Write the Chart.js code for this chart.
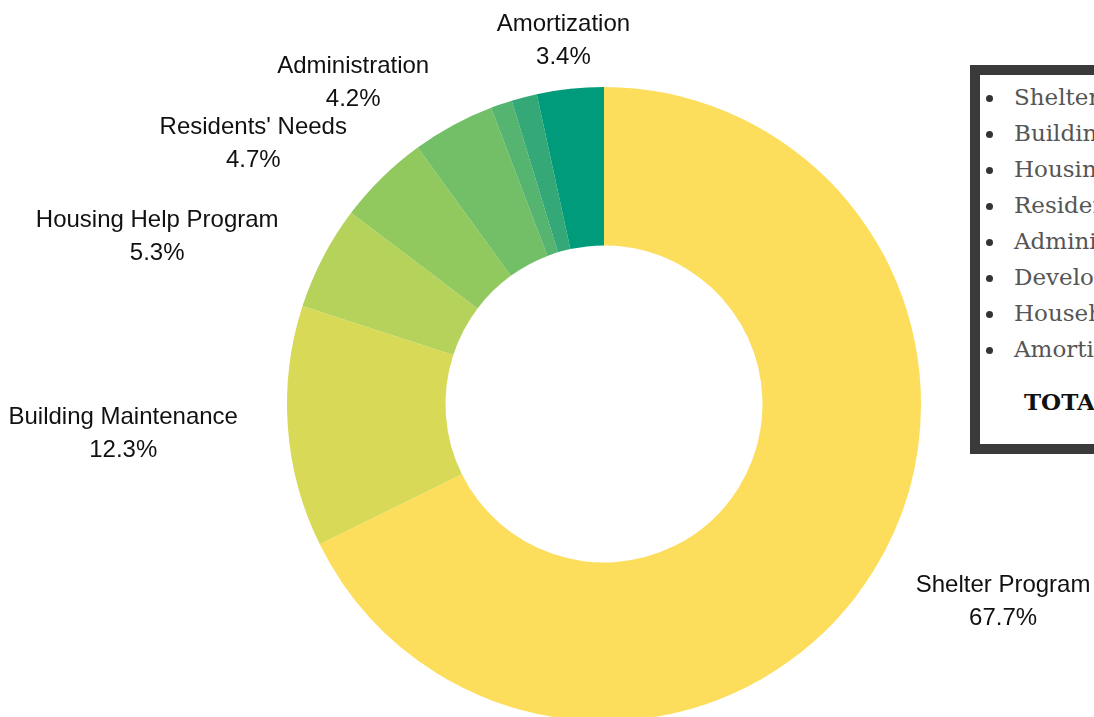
<!DOCTYPE html>
<html>
<head>
<meta charset="utf-8">
<script src="https://cdn.jsdelivr.net/npm/chart.js@4/dist/chart.umd.min.js"></script>
<style>
  html, body { margin: 0; padding: 0; width: 1094px; height: 717px; overflow: hidden; background: #fff; }
  #wrap { position: absolute; left: 0; top: 0; width: 1094px; height: 800px; }
  #legendBox {
    position: absolute; left: 970px; top: 65px; width: 330px; height: 369px;
    border: 10px solid #3a3a3a; background: #fff;
    font-family: "DejaVu Serif", serif; font-size: 23px; color: #555;
  }
  #legendBox ul { list-style: none; margin: 4px 0 0 0; padding: 0; }
  #legendBox li { position: relative; height: 36px; line-height: 36px; padding-left: 34px; white-space: nowrap; }
  #legendBox li::before {
    content: ""; position: absolute; left: 6px; top: 16px; width: 7px; height: 7px;
    border-radius: 50%; background: #333;
  }
  #legendBox .total { margin: 21px 0 0 44px; font-weight: bold; color: #111; white-space: nowrap; }
</style>
</head>
<body>
<div id="wrap"><canvas id="donut"></canvas></div>
<div id="legendBox"><ul id="legendList"></ul><div class="total">TOTAL</div></div>
<script>
const categories = [
  'Shelter Program', 'Building Maintenance', 'Housing Help Program', "Residents' Needs",
  'Administration', 'Development', 'Household', 'Amortization'
];
const shares = [67.7, 12.3, 5.3, 4.7, 4.2, 1.1, 1.3, 3.4];
const colors = ['#fddd5c', '#d8da57', '#b5d35b', '#91c95f', '#72bf67', '#55b46f', '#34a876', '#009b7a'];
// small slices get no outside label
const minLabelShare = 2;

document.getElementById('legendList').innerHTML =
  categories.map(c => `<li>${c}</li>`).join('');

const outLabels = {
  id: 'outLabels',
  afterDraw(chart) {
    const ctx = chart.ctx;
    const arcs = chart.getDatasetMeta(0).data;
    ctx.save();
    ctx.font = '24px "Liberation Sans", Arial, sans-serif';
    ctx.fillStyle = '#111';
    ctx.textAlign = 'center';
    ctx.textBaseline = 'middle';
    arcs.forEach((arc, i) => {
      if (shares[i] < minLabelShare) return;
      const { x, y, startAngle, endAngle, outerRadius } = arc.getProps(['x', 'y', 'startAngle', 'endAngle', 'outerRadius'], true);
      const mid = (startAngle + endAngle) / 2;
      const dx = Math.cos(mid), dy = Math.sin(mid);
      const lines = [categories[i], shares[i].toFixed(1) + '%'];
      const w = Math.max(...lines.map(l => ctx.measureText(l).width));
      const h = 58;
      const fx = Math.sign(dx) * Math.min(1, Math.max(0, (Math.abs(dx) - 0.1) / 0.3));
      const cx = x + (outerRadius + 50) * dx + (w / 2) * fx;
      const cy = y + (outerRadius + 23) * dy + (h / 2) * dy + 3;
      ctx.fillText(lines[0], cx, cy - 16);
      ctx.fillText(lines[1], cx, cy + 17);
    });
    ctx.restore();
  }
};

new Chart(document.getElementById('donut'), {
  type: 'doughnut',
  data: {
    labels: categories,
    datasets: [{
      data: shares,
      backgroundColor: colors,
      borderWidth: 0
    }]
  },
  options: {
    responsive: true,
    maintainAspectRatio: false,
    animation: false,
    cutout: '50%',
    layout: { padding: { left: 287, right: 173, top: 87, bottom: 79 } },
    plugins: {
      legend: { display: false },
      tooltip: { enabled: false }
    }
  },
  plugins: [outLabels]
});
</script>
</body>
</html>
